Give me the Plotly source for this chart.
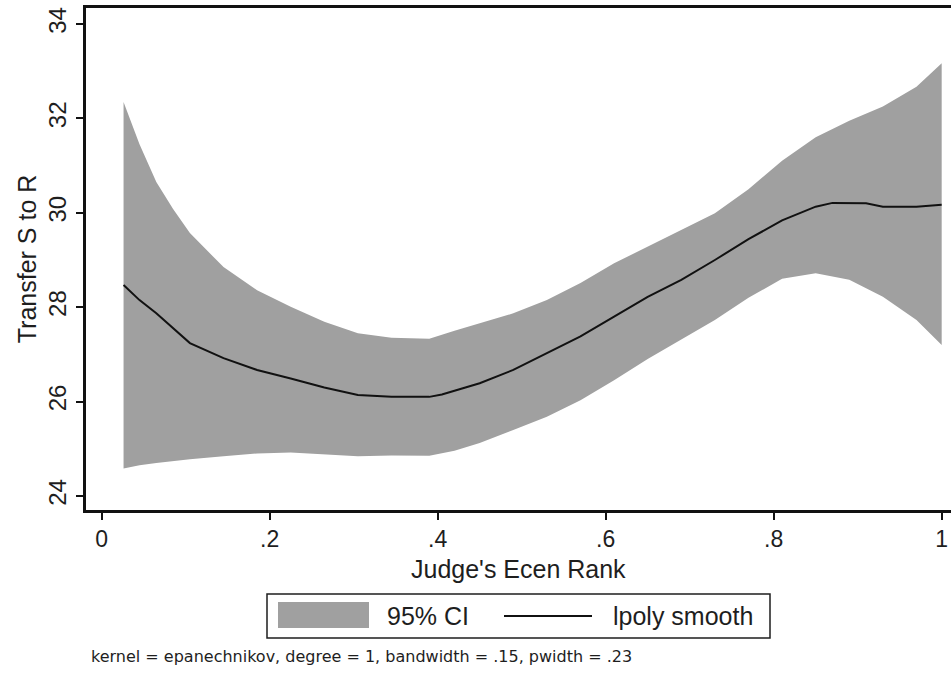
import plotly.graph_objects as go

# ---- data ----
x_grid = [0.026, 0.045, 0.065, 0.085, 0.105, 0.145, 0.185, 0.225, 0.265, 0.305,
          0.345, 0.39, 0.42, 0.45, 0.49, 0.53, 0.57, 0.61, 0.65, 0.69,
          0.73, 0.77, 0.81, 0.85, 0.89, 0.93, 0.97, 1.0]
ci_upper = [32.35, 31.45, 30.65, 30.08, 29.57, 28.85, 28.36, 28.01, 27.69, 27.45,
            27.35, 27.33, 27.5, 27.66, 27.87, 28.15, 28.51, 28.93, 29.28, 29.64,
            29.99, 30.5, 31.1, 31.6, 31.95, 32.25, 32.67, 33.17]
ci_lower = [24.58, 24.65, 24.7, 24.74, 24.78, 24.84, 24.9, 24.92, 24.88, 24.84,
            24.86, 24.85, 24.96, 25.12, 25.40, 25.68, 26.03, 26.45, 26.9, 27.32,
            27.73, 28.2, 28.6, 28.72, 28.58, 28.22, 27.73, 27.2]
x_fit = [0.026, 0.045, 0.065, 0.085, 0.105, 0.145, 0.185, 0.225, 0.265, 0.305,
         0.345, 0.39, 0.405, 0.42, 0.45, 0.49, 0.53, 0.57, 0.61, 0.65,
         0.69, 0.73, 0.77, 0.81, 0.85, 0.87, 0.91, 0.93, 0.97, 1.0]
fit = [28.47, 28.15, 27.87, 27.55, 27.24, 26.92, 26.67, 26.49, 26.30, 26.14,
       26.10, 26.10, 26.15, 26.23, 26.39, 26.67, 27.02, 27.38, 27.80, 28.22,
       28.58, 29.0, 29.44, 29.84, 30.13, 30.21, 30.2, 30.13, 30.13, 30.17]

x_tickvals = [0, 0.2, 0.4, 0.6, 0.8, 1]
x_ticktext = ["0", ".2", ".4", ".6", ".8", "1"]
y_tickvals = [24, 26, 28, 30, 32, 34]
y_ticktext = ["24", "26", "28", "30", "32", "34"]

legend_labels = ["95% CI", "lpoly smooth"]
x_title = "Judge's Ecen Rank"
y_title = "Transfer S to R"
note = "kernel = epanechnikov, degree = 1, bandwidth = .15, pwidth = .23"

BAND = "#a0a0a0"
INK = "#1e1e1e"
FONT = "Liberation Sans, Arial, sans-serif"

fig = go.Figure()
fig.add_trace(go.Scatter(x=x_grid, y=ci_lower, mode="lines", line=dict(width=0, color=BAND),
                         showlegend=False, hoverinfo="skip"))
fig.add_trace(go.Scatter(x=x_grid, y=ci_upper, mode="lines", line=dict(width=0, color=BAND),
                         fill="tonexty", fillcolor=BAND, name=legend_labels[0], showlegend=False))
fig.add_trace(go.Scatter(x=x_fit, y=fit, mode="lines", line=dict(width=2, color="#111111"),
                         name=legend_labels[1], showlegend=False))

W, H = 951, 675
ML, MR, MT, MB = 86, 0, 8, 165
PW, PH = W - ML - MR, H - MT - MB


def px(x):
    return (x - ML) / PW


def py(y):
    return (H - MB - y) / PH


shapes = [
    # legend frame
    dict(type="rect", xref="paper", yref="paper", x0=px(267), x1=px(770), y0=py(638), y1=py(594),
         line=dict(color=INK, width=1.5), fillcolor="white"),
    # CI swatch
    dict(type="rect", xref="paper", yref="paper", x0=px(278), x1=px(369), y0=py(628), y1=py(602),
         line=dict(width=0), fillcolor=BAND),
    # line swatch
    dict(type="line", xref="paper", yref="paper", x0=px(504), x1=px(592), y0=py(616), y1=py(616),
         line=dict(color="#111111", width=2)),
]

annotations = [
    dict(text=x_title, xref="paper", yref="paper", x=0.5, y=py(569), xanchor="center", yanchor="middle",
         showarrow=False, font=dict(family=FONT, size=25, color=INK)),
    dict(text=legend_labels[0], xref="paper", yref="paper", x=px(385), y=py(616), xanchor="left",
         yanchor="middle", showarrow=False, font=dict(family=FONT, size=25, color=INK)),
    dict(text=legend_labels[1], xref="paper", yref="paper", x=px(611), y=py(616), xanchor="left",
         yanchor="middle", showarrow=False, font=dict(family=FONT, size=25, color=INK)),
    dict(text=note, xref="paper", yref="paper", x=px(89), y=py(656), xanchor="left",
         yanchor="middle", showarrow=False, font=dict(family="DejaVu Sans, sans-serif", size=16, color=INK)),
]

fig.update_layout(
    width=W, height=H,
    margin=dict(l=ML, r=MR, t=MT, b=MB, pad=0),
    paper_bgcolor="white", plot_bgcolor="white",
    showlegend=False,
    font=dict(family=FONT, color=INK),
    shapes=shapes, annotations=annotations,
    xaxis=dict(range=[-0.0187, 1.0111], tickvals=x_tickvals, ticktext=x_ticktext,
               showgrid=False, zeroline=False, showline=True, mirror=True,
               linecolor="#111111", linewidth=2.5, ticks="outside", ticklen=7, tickwidth=2,
               tickcolor="#111111", tickfont=dict(family=FONT, size=23, color=INK),
               ticklabelstandoff=0),
    yaxis=dict(range=[23.703, 34.339], tickvals=y_tickvals, ticktext=y_ticktext,
               showgrid=False, zeroline=False, showline=True, mirror=False,
               linecolor="#111111", linewidth=2.5, ticks="outside", ticklen=7, tickwidth=2,
               tickcolor="#111111", tickangle=-90, tickfont=dict(family=FONT, size=24, color=INK),
               ticklabelstandoff=1,
               title=dict(text=y_title, font=dict(family=FONT, size=25, color=INK), standoff=0)),
)

fig.write_html("out.html")
